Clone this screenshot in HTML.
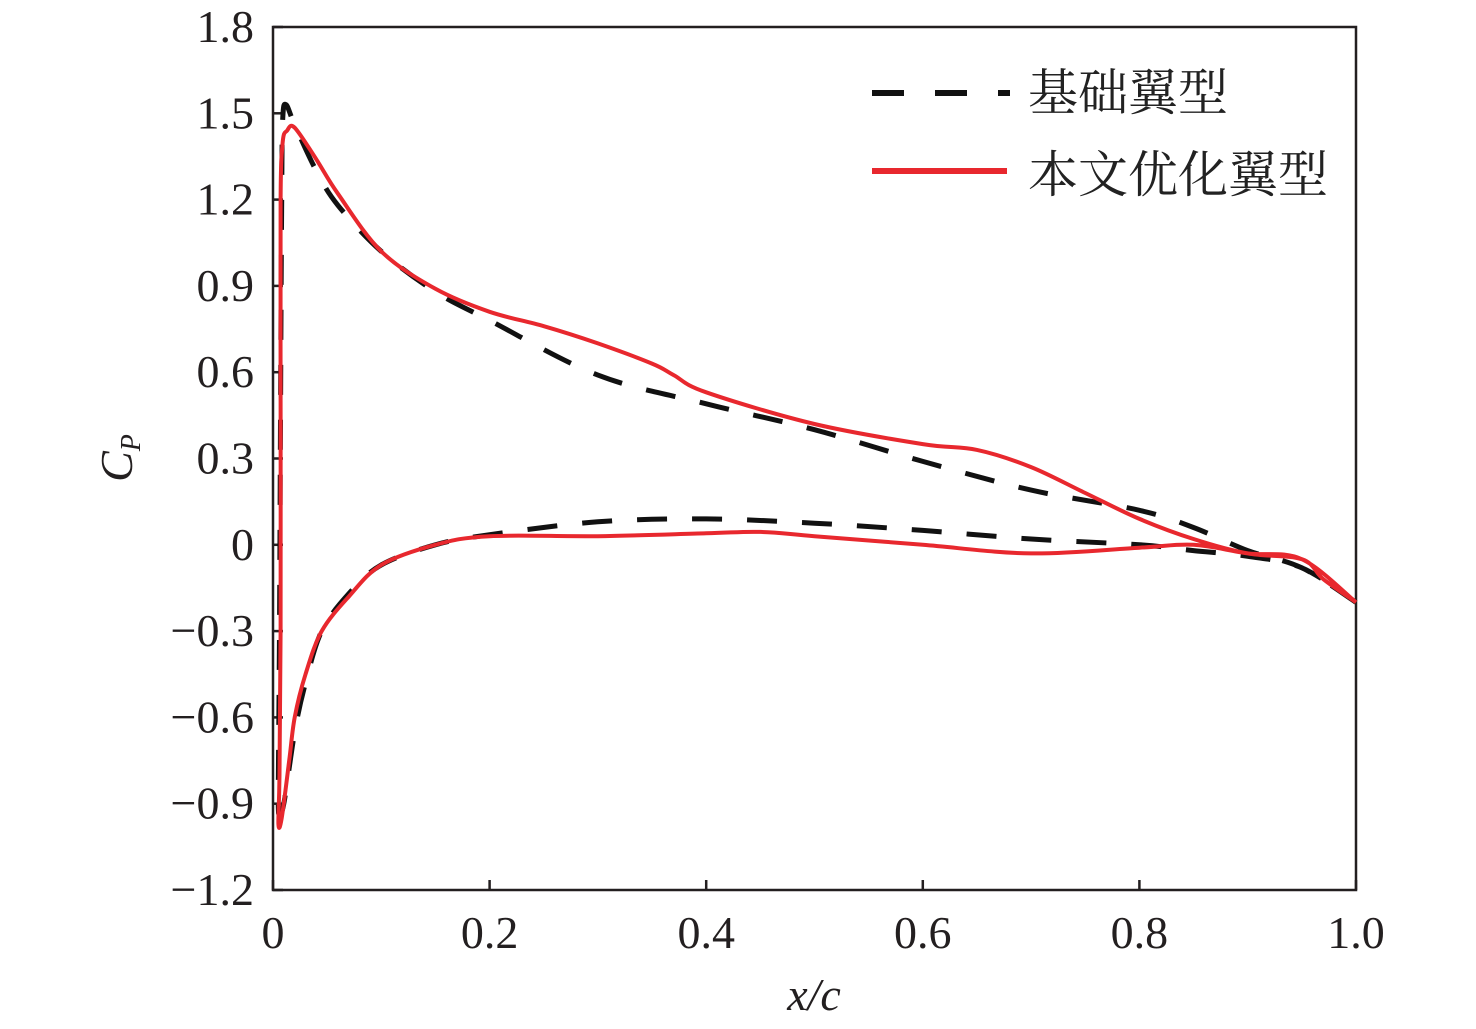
<!DOCTYPE html>
<html><head><meta charset="utf-8"><style>
html,body{margin:0;padding:0;background:#fff;}
svg{display:block;}
</style></head><body>
<svg id="chart" width="1476" height="1029" viewBox="0 0 1476 1029" xmlns="http://www.w3.org/2000/svg">
<g id="axes"></g>
<g id="series"></g>
<g id="legend">
  <line x1="872" y1="93" x2="1010" y2="93" stroke="#111" stroke-width="6" stroke-dasharray="32,31"/>
  <text x="1028" y="110" font-family="'Liberation Serif','Times New Roman','Noto Serif CJK SC',serif" font-size="50" fill="#222">基础翼型</text>
  <line x1="872" y1="171" x2="1007" y2="171" stroke="#e8282e" stroke-width="6"/>
  <text x="1028" y="192" font-family="'Liberation Serif','Times New Roman','Noto Serif CJK SC',serif" font-size="50" fill="#222">本文优化翼型</text>
</g>
</svg>
<script>
// Data
const xTicks = [0, 0.2, 0.4, 0.6, 0.8, 1.0];
const xTickLabels = ["0", "0.2", "0.4", "0.6", "0.8", "1.0"];
const yTicks = [1.8, 1.5, 1.2, 0.9, 0.6, 0.3, 0, -0.3, -0.6, -0.9, -1.2];
const yTickLabels = ["1.8", "1.5", "1.2", "0.9", "0.6", "0.3", "0", "\u22120.3", "\u22120.6", "\u22120.9", "\u22121.2"];

const baseX = [1.0,0.95,0.9,0.85,0.8,0.7,0.6,0.5,0.4,0.3,0.2,0.15,0.1,0.06,0.04,0.02,0.012,0.009,0.008,0.007,0.006,0.005,0.005,0.006,0.01,0.02,0.03,0.045,0.07,0.1,0.15,0.2,0.3,0.4,0.5,0.6,0.7,0.8,0.85,0.9,0.95,1.0];
const baseCp = [-0.2,-0.08,-0.02,0.06,0.12,0.19,0.29,0.40,0.49,0.59,0.78,0.88,1.02,1.18,1.30,1.46,1.53,1.48,1.2,0.5,-0.3,-0.8,-0.92,-0.93,-0.9,-0.65,-0.48,-0.3,-0.17,-0.07,0.0,0.035,0.08,0.09,0.075,0.05,0.02,0.0,-0.02,-0.04,-0.08,-0.2];

const optX = [1.0,0.97,0.95,0.9,0.85,0.8,0.75,0.7,0.65,0.6,0.5,0.4,0.37,0.35,0.3,0.25,0.2,0.15,0.1,0.06,0.04,0.02,0.013,0.009,0.007,0.007,0.007,0.006,0.005,0.008,0.015,0.02,0.03,0.045,0.07,0.1,0.15,0.2,0.3,0.4,0.45,0.5,0.6,0.7,0.8,0.85,0.9,0.95,1.0];
const optCp = [-0.2,-0.12,-0.05,-0.03,0.02,0.09,0.18,0.27,0.33,0.35,0.42,0.53,0.59,0.63,0.70,0.76,0.81,0.89,1.02,1.22,1.34,1.45,1.44,1.4,1.2,0.5,-0.3,-0.8,-0.97,-0.95,-0.75,-0.6,-0.45,-0.3,-0.18,-0.07,0.0,0.03,0.03,0.04,0.045,0.03,0.0,-0.03,-0.01,0.0,-0.03,-0.05,-0.2];

const NS = "http://www.w3.org/2000/svg";
const L = 273, R = 1356, T = 27, B = 890;
function sx(v){ return L + (R - L) * v; }
function sy(v){ return T + (1.8 - v) * (B - T) / 3.0; }

const axes = document.getElementById('axes');
const frame = document.createElementNS(NS, 'rect');


frame.setAttribute('x', L); frame.setAttribute('y', T);
frame.setAttribute('width', R - L); frame.setAttribute('height', B - T);
frame.setAttribute('fill', 'none'); frame.setAttribute('stroke', '#231f20'); frame.setAttribute('stroke-width', '2.5');
axes.appendChild(frame);

const font = "'Liberation Serif','Times New Roman',serif";
xTicks.forEach((v, i) => {
  const t = document.createElementNS(NS, 'line');
  
  
  t.setAttribute('x1', sx(v)); t.setAttribute('x2', sx(v));
  t.setAttribute('y1', B); t.setAttribute('y2', B - 10);
  t.setAttribute('stroke', '#231f20'); t.setAttribute('stroke-width', '2.5');
  axes.appendChild(t);
  const lb = document.createElementNS(NS, 'text');
  
  
  lb.setAttribute('x', sx(v)); lb.setAttribute('y', 948);
  lb.setAttribute('text-anchor', 'middle');
  lb.setAttribute('font-family', font); lb.setAttribute('font-size', '46'); lb.setAttribute('fill', '#231f20');
  lb.textContent = xTickLabels[i];
  axes.appendChild(lb);
});
yTicks.forEach((v, i) => {
  const t = document.createElementNS(NS, 'line');
  
  
  t.setAttribute('x1', L); t.setAttribute('x2', L + 10);
  t.setAttribute('y1', sy(v)); t.setAttribute('y2', sy(v));
  t.setAttribute('stroke', '#231f20'); t.setAttribute('stroke-width', '2.5');
  axes.appendChild(t);
  const lb = document.createElementNS(NS, 'text');
  
  
  lb.setAttribute('x', 254); lb.setAttribute('y', sy(v) + 15);
  lb.setAttribute('text-anchor', 'end');
  lb.setAttribute('font-family', font); lb.setAttribute('font-size', '46'); lb.setAttribute('fill', '#231f20');
  lb.textContent = yTickLabels[i];
  axes.appendChild(lb);
});
const xt = document.createElementNS(NS, 'text');


xt.setAttribute('x', 814); xt.setAttribute('y', 1010);
xt.setAttribute('text-anchor', 'middle');
xt.setAttribute('font-family', font); xt.setAttribute('font-size', '46'); xt.setAttribute('font-style', 'italic'); xt.setAttribute('fill', '#231f20');
xt.textContent = 'x/c';
axes.appendChild(xt);
const yt = document.createElementNS(NS, 'text');


yt.setAttribute('transform', 'translate(132,458) rotate(-90)');
yt.setAttribute('text-anchor', 'middle');
yt.setAttribute('font-family', font); yt.setAttribute('font-size', '46'); yt.setAttribute('font-style', 'italic'); yt.setAttribute('fill', '#231f20');
yt.innerHTML = 'C<tspan font-size="28" dy="8">P</tspan>';
axes.appendChild(yt);

const series = document.getElementById('series');
function pathFrom(xs, ys){
  const p = xs.map((x, i) => [sx(x), sy(ys[i])]);
  let d = 'M' + p[0][0].toFixed(1) + ',' + p[0][1].toFixed(1);
  for (let i = 0; i < p.length - 1; i++) {
    const p0 = p[Math.max(0, i - 1)], p1 = p[i], p2 = p[i + 1], p3 = p[Math.min(p.length - 1, i + 2)];
    const c1x = p1[0] + (p2[0] - p0[0]) / 6, c1y = p1[1] + (p2[1] - p0[1]) / 6;
    const c2x = p2[0] - (p3[0] - p1[0]) / 6, c2y = p2[1] - (p3[1] - p1[1]) / 6;
    d += ' C' + c1x.toFixed(1) + ',' + c1y.toFixed(1) + ' ' + c2x.toFixed(1) + ',' + c2y.toFixed(1) + ' ' + p2[0].toFixed(1) + ',' + p2[1].toFixed(1);
  }
  return d;
}
const pb = document.createElementNS(NS, 'path');


pb.setAttribute('d', pathFrom(baseX, baseCp));
pb.setAttribute('fill', 'none'); pb.setAttribute('stroke', '#111'); pb.setAttribute('stroke-width', '5');
pb.setAttribute('stroke-dasharray', '30,25'); pb.setAttribute('stroke-linejoin', 'round');
series.appendChild(pb);
const po = document.createElementNS(NS, 'path');


po.setAttribute('d', pathFrom(optX, optCp));
po.setAttribute('fill', 'none'); po.setAttribute('stroke', '#e8282e'); po.setAttribute('stroke-width', '4');
po.setAttribute('stroke-linejoin', 'round');
series.appendChild(po);
</script>
</body></html>
